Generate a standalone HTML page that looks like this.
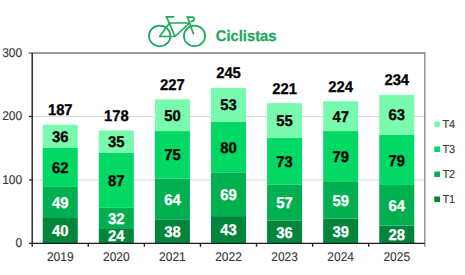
<!DOCTYPE html>
<html><head><meta charset="utf-8"><style>
html,body{margin:0;padding:0;background:#fff;width:465px;height:275px;overflow:hidden}
svg{display:block}
text{font-family:"Liberation Sans",sans-serif;text-rendering:geometricPrecision}
.seg{font-size:14.8px;font-weight:bold;text-anchor:middle;stroke-width:0.3px}
.xl{font-size:12px;text-anchor:middle;fill:#3a3a3a;stroke:#3a3a3a;stroke-width:0.15px}
.yl{font-size:12px;text-anchor:end;fill:#3a3a3a;stroke:#3a3a3a;stroke-width:0.15px}
.lg{font-size:11px;fill:#3a3a3a;stroke:#3a3a3a;stroke-width:0.15px}
.title{font-size:14.8px;font-weight:bold;fill:#1fa85c;stroke:#1fa85c;stroke-width:0.25px}
</style></head><body>
<svg width="465" height="275" viewBox="0 0 465 275">
<line x1="32.2" y1="179.93" x2="424.8" y2="179.93" stroke="#d9d9d9" stroke-width="1"/>
<line x1="32.2" y1="116.47" x2="424.8" y2="116.47" stroke="#d9d9d9" stroke-width="1"/>
<rect x="42.74" y="218.01" width="35" height="25.39" fill="#00853b"/>
<rect x="42.74" y="186.91" width="35" height="31.10" fill="#00b050"/>
<rect x="42.74" y="147.57" width="35" height="39.35" fill="#02d965"/>
<rect x="42.74" y="124.72" width="35" height="22.85" fill="#78fbad"/>
<text transform="translate(60.24 236.31) scale(1 1.05)" class="seg" fill="#fff" stroke="#fff">40</text>
<text transform="translate(60.24 208.06) scale(1 1.05)" class="seg" fill="#fff" stroke="#fff">49</text>
<text transform="translate(60.24 172.84) scale(1 1.05)" class="seg" fill="#000" stroke="#000">62</text>
<text transform="translate(60.24 141.74) scale(1 1.05)" class="seg" fill="#000" stroke="#000">36</text>
<text transform="translate(60.24 115.22) scale(1 1.05)" class="seg" fill="#000" stroke="#000">187</text>
<text transform="translate(60.24 261.30) scale(1 1.06)" class="xl">2019</text>
<rect x="98.83" y="228.17" width="35" height="15.23" fill="#00853b"/>
<rect x="98.83" y="207.86" width="35" height="20.31" fill="#00b050"/>
<rect x="98.83" y="152.64" width="35" height="55.22" fill="#02d965"/>
<rect x="98.83" y="130.43" width="35" height="22.21" fill="#78fbad"/>
<text transform="translate(116.33 241.38) scale(1 1.05)" class="seg" fill="#fff" stroke="#fff">24</text>
<text transform="translate(116.33 223.61) scale(1 1.05)" class="seg" fill="#fff" stroke="#fff">32</text>
<text transform="translate(116.33 185.85) scale(1 1.05)" class="seg" fill="#000" stroke="#000">87</text>
<text transform="translate(116.33 147.14) scale(1 1.05)" class="seg" fill="#000" stroke="#000">35</text>
<text transform="translate(116.33 120.93) scale(1 1.05)" class="seg" fill="#000" stroke="#000">178</text>
<text transform="translate(116.33 261.30) scale(1 1.06)" class="xl">2020</text>
<rect x="154.91" y="219.28" width="35" height="24.12" fill="#00853b"/>
<rect x="154.91" y="178.66" width="35" height="40.62" fill="#00b050"/>
<rect x="154.91" y="131.06" width="35" height="47.60" fill="#02d965"/>
<rect x="154.91" y="99.33" width="35" height="31.73" fill="#78fbad"/>
<text transform="translate(172.41 236.94) scale(1 1.05)" class="seg" fill="#fff" stroke="#fff">38</text>
<text transform="translate(172.41 204.57) scale(1 1.05)" class="seg" fill="#fff" stroke="#fff">64</text>
<text transform="translate(172.41 160.46) scale(1 1.05)" class="seg" fill="#000" stroke="#000">75</text>
<text transform="translate(172.41 120.80) scale(1 1.05)" class="seg" fill="#000" stroke="#000">50</text>
<text transform="translate(172.41 89.83) scale(1 1.05)" class="seg" fill="#000" stroke="#000">227</text>
<text transform="translate(172.41 261.30) scale(1 1.06)" class="xl">2021</text>
<rect x="211.00" y="216.11" width="35" height="27.29" fill="#00853b"/>
<rect x="211.00" y="172.32" width="35" height="43.79" fill="#00b050"/>
<rect x="211.00" y="121.54" width="35" height="50.77" fill="#02d965"/>
<rect x="211.00" y="87.91" width="35" height="33.64" fill="#78fbad"/>
<text transform="translate(228.50 235.35) scale(1 1.05)" class="seg" fill="#fff" stroke="#fff">43</text>
<text transform="translate(228.50 199.81) scale(1 1.05)" class="seg" fill="#fff" stroke="#fff">69</text>
<text transform="translate(228.50 152.53) scale(1 1.05)" class="seg" fill="#000" stroke="#000">80</text>
<text transform="translate(228.50 110.33) scale(1 1.05)" class="seg" fill="#000" stroke="#000">53</text>
<text transform="translate(228.50 78.41) scale(1 1.05)" class="seg" fill="#000" stroke="#000">245</text>
<text transform="translate(228.50 261.30) scale(1 1.06)" class="xl">2022</text>
<rect x="267.09" y="220.55" width="35" height="22.85" fill="#00853b"/>
<rect x="267.09" y="184.38" width="35" height="36.18" fill="#00b050"/>
<rect x="267.09" y="138.05" width="35" height="46.33" fill="#02d965"/>
<rect x="267.09" y="103.14" width="35" height="34.91" fill="#78fbad"/>
<text transform="translate(284.59 237.58) scale(1 1.05)" class="seg" fill="#fff" stroke="#fff">36</text>
<text transform="translate(284.59 208.06) scale(1 1.05)" class="seg" fill="#fff" stroke="#fff">57</text>
<text transform="translate(284.59 166.81) scale(1 1.05)" class="seg" fill="#000" stroke="#000">73</text>
<text transform="translate(284.59 126.19) scale(1 1.05)" class="seg" fill="#000" stroke="#000">55</text>
<text transform="translate(284.59 93.64) scale(1 1.05)" class="seg" fill="#000" stroke="#000">221</text>
<text transform="translate(284.59 261.30) scale(1 1.06)" class="xl">2023</text>
<rect x="323.17" y="218.65" width="35" height="24.75" fill="#00853b"/>
<rect x="323.17" y="181.20" width="35" height="37.45" fill="#00b050"/>
<rect x="323.17" y="131.06" width="35" height="50.14" fill="#02d965"/>
<rect x="323.17" y="101.23" width="35" height="29.83" fill="#78fbad"/>
<text transform="translate(340.67 236.62) scale(1 1.05)" class="seg" fill="#fff" stroke="#fff">39</text>
<text transform="translate(340.67 205.53) scale(1 1.05)" class="seg" fill="#fff" stroke="#fff">59</text>
<text transform="translate(340.67 161.73) scale(1 1.05)" class="seg" fill="#000" stroke="#000">79</text>
<text transform="translate(340.67 121.75) scale(1 1.05)" class="seg" fill="#000" stroke="#000">47</text>
<text transform="translate(340.67 91.73) scale(1 1.05)" class="seg" fill="#000" stroke="#000">224</text>
<text transform="translate(340.67 261.30) scale(1 1.06)" class="xl">2024</text>
<rect x="379.26" y="225.63" width="35" height="17.77" fill="#00853b"/>
<rect x="379.26" y="185.01" width="35" height="40.62" fill="#00b050"/>
<rect x="379.26" y="134.87" width="35" height="50.14" fill="#02d965"/>
<rect x="379.26" y="94.89" width="35" height="39.98" fill="#78fbad"/>
<text transform="translate(396.76 240.11) scale(1 1.05)" class="seg" fill="#fff" stroke="#fff">28</text>
<text transform="translate(396.76 210.92) scale(1 1.05)" class="seg" fill="#fff" stroke="#fff">64</text>
<text transform="translate(396.76 165.54) scale(1 1.05)" class="seg" fill="#000" stroke="#000">79</text>
<text transform="translate(396.76 120.48) scale(1 1.05)" class="seg" fill="#000" stroke="#000">63</text>
<text transform="translate(396.76 85.39) scale(1 1.05)" class="seg" fill="#000" stroke="#000">234</text>
<text transform="translate(396.76 261.30) scale(1 1.06)" class="xl">2025</text>
<line x1="28.7" y1="53.0" x2="425.6" y2="53.0" stroke="#9c9c9c" stroke-width="1.8"/>
<line x1="424.8" y1="53.0" x2="424.8" y2="246.7" stroke="#929292" stroke-width="1.5"/>
<line x1="32.2" y1="53.0" x2="32.2" y2="246.7" stroke="#1e1e1e" stroke-width="1.4"/>
<line x1="28.9" y1="243.4" x2="424.8" y2="243.4" stroke="#1e1e1e" stroke-width="1.2"/>
<line x1="28.9" y1="179.93" x2="32.2" y2="179.93" stroke="#1e1e1e" stroke-width="1.2"/>
<line x1="28.9" y1="116.47" x2="32.2" y2="116.47" stroke="#1e1e1e" stroke-width="1.2"/>
<line x1="88.29" y1="243.4" x2="88.29" y2="246.7" stroke="#1e1e1e" stroke-width="1.4"/>
<line x1="144.37" y1="243.4" x2="144.37" y2="246.7" stroke="#1e1e1e" stroke-width="1.4"/>
<line x1="200.46" y1="243.4" x2="200.46" y2="246.7" stroke="#1e1e1e" stroke-width="1.4"/>
<line x1="256.54" y1="243.4" x2="256.54" y2="246.7" stroke="#1e1e1e" stroke-width="1.4"/>
<line x1="312.63" y1="243.4" x2="312.63" y2="246.7" stroke="#1e1e1e" stroke-width="1.4"/>
<line x1="368.71" y1="243.4" x2="368.71" y2="246.7" stroke="#1e1e1e" stroke-width="1.4"/>
<text transform="translate(22.20 247.10) scale(1 1.06)" class="yl">0</text>
<text transform="translate(22.20 183.63) scale(1 1.06)" class="yl">100</text>
<text transform="translate(22.20 120.17) scale(1 1.06)" class="yl">200</text>
<text transform="translate(22.20 56.70) scale(1 1.06)" class="yl">300</text>
<rect x="434.3" y="121.5" width="5.7" height="5.5" fill="#78fbad"/>
<text transform="translate(442.40 127.70) scale(1 1.06)" class="lg">T4</text>
<rect x="434.3" y="146.5" width="5.7" height="5.5" fill="#02d965"/>
<text transform="translate(442.40 152.70) scale(1 1.06)" class="lg">T3</text>
<rect x="434.3" y="171.5" width="5.7" height="5.5" fill="#00b050"/>
<text transform="translate(442.40 177.70) scale(1 1.06)" class="lg">T2</text>
<rect x="434.3" y="196.5" width="5.7" height="5.5" fill="#00853b"/>
<text transform="translate(442.40 202.70) scale(1 1.06)" class="lg">T1</text>
<text transform="translate(215.70 40.70) scale(1 1.03)" class="title">Ciclistas</text>
<g fill="none" stroke="#1fa85c" stroke-width="1.7" stroke-linecap="round" stroke-linejoin="round">
<ellipse cx="159.7" cy="35.9" rx="10.7" ry="10.3"/>
<ellipse cx="194.5" cy="35.9" rx="10.6" ry="10.3"/>
<path d="M166.3 16.9 H173.6"/>
<path d="M166.7 17.1 L175 36.5 H159.6 L169.6 23 H189.6 L175 36.5"/>
<path d="M187.7 17.2 L193.4 33.8"/>
<path d="M187.1 17.1 H192.4 Q194.4 17.3 194.2 19.1 Q194 21.2 191.2 21.4"/>
</g>
</svg>
</body></html>
